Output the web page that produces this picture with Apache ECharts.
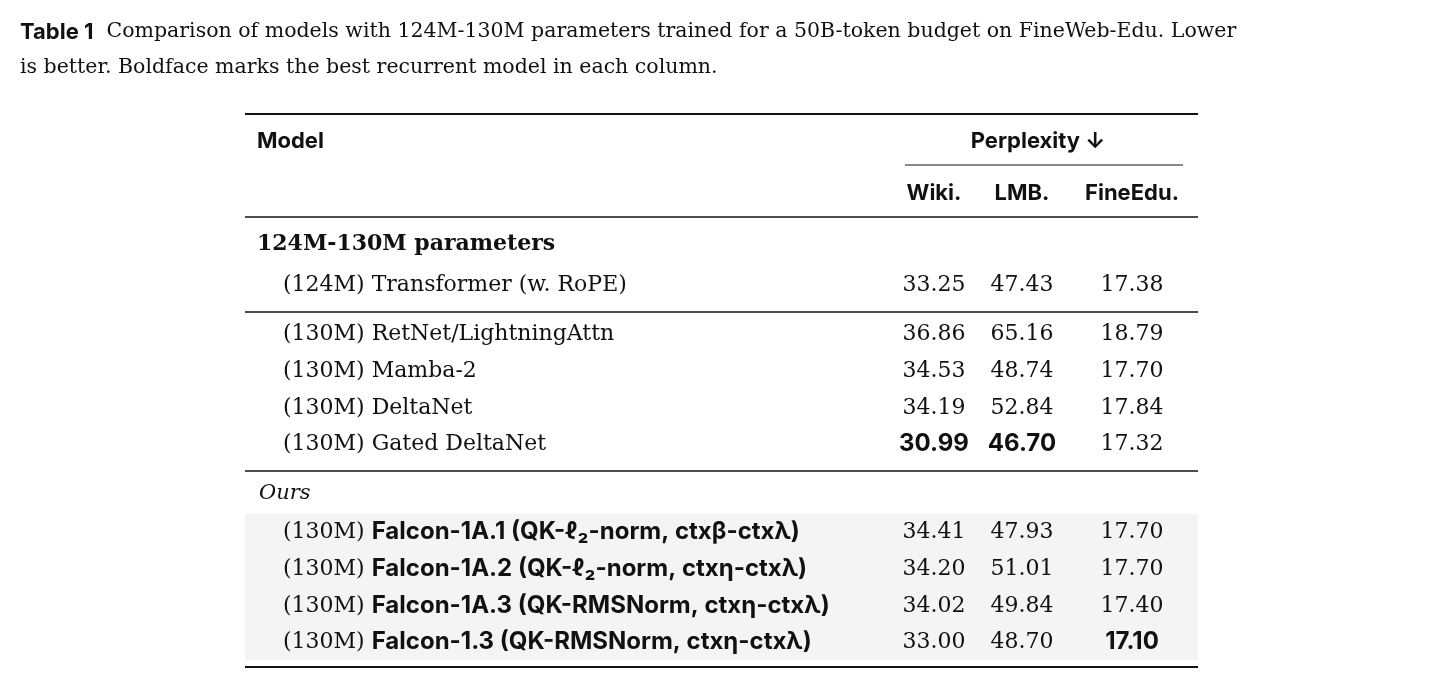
<!DOCTYPE html>
<html><head><meta charset="utf-8">
<script src="https://cdn.jsdelivr.net/npm/echarts@6/dist/echarts.min.js"></script>
<style>html,body{margin:0;background:#fff}#c{width:1444px;height:688px}</style>
</head><body><div id="c"></div>
<script>
// table data
const columns = ['Wiki.', 'LMB.', 'FineEdu.']
const baseSizes = ['(124M)']
const baseModels = ['Transformer (w. RoPE)']
const baseWiki = ['33.25'], baseLmb = ['47.43'], baseFine = ['17.38']
const recSizes = ['(130M)', '(130M)', '(130M)', '(130M)']
const recModels = ['RetNet/LightningAttn', 'Mamba-2', 'DeltaNet', 'Gated DeltaNet']
const recWiki = ['36.86', '34.53', '34.19', '30.99']
const recLmb = ['65.16', '48.74', '52.84', '46.70']
const recFine = ['18.79', '17.70', '17.84', '17.32']
const oursSizes = ['(130M)', '(130M)', '(130M)', '(130M)']
const oursModels = ['Falcon-1A.1 (QK-ℓ₂-norm, ctxβ-ctxλ)', 'Falcon-1A.2 (QK-ℓ₂-norm, ctxη-ctxλ)', 'Falcon-1A.3 (QK-RMSNorm, ctxη-ctxλ)', 'Falcon-1.3 (QK-RMSNorm, ctxη-ctxλ)']
const oursWiki = ['34.41', '34.20', '34.02', '33.00']
const oursLmb = ['47.93', '51.01', '49.84', '48.70']
const oursFine = ['17.70', '17.70', '17.40', '17.10']
// best recurrent per column: [section, rowIndex]
const bestWiki = ['rec', 3], bestLmb = ['rec', 3], bestFine = ['ours', 3]

const SERIF = '"DejaVu Serif", "Liberation Serif", serif'
const SANS = 'Inter, "Open Sans", sans-serif'
const colX = [934, 1022, 1132]
const L = 245, R = 1198
const els = []

function text(x, y, s, opt) {
  els.push({type: 'text', x: x, y: y, style: Object.assign({text: s, fill: '#111', font: '22px ' + SERIF, textVerticalAlign: 'middle'}, opt || {})})
}
function rule(x1, x2, y, w) {
  els.push({type: 'line', shape: {x1: x1, y1: y, x2: x2, y2: y}, style: {stroke: '#111', lineWidth: w}})
}
function numCell(i, y, v, bold) {
  text(colX[i], y, v, {textAlign: 'center', font: bold ? 'bold 24px ' + SANS : '22px ' + SERIF})
}
function rows(section, sizes, models, wiki, lmb, fine, ys, sansName) {
  sizes.forEach((sz, k) => {
    const y = ys[k]
    els.push({type: 'text', x: 283, y: y, style: {
      rich: {s: {font: '22px ' + SERIF, fill: '#111'}, m: {font: sansName ? 'bold 24px ' + SANS : '22px ' + SERIF, fill: '#111'}},
      text: '{s|' + sz + ' }{m|' + models[k] + '}', textVerticalAlign: 'middle'}})
    numCell(0, y, wiki[k], bestWiki[0] === section && bestWiki[1] === k)
    numCell(1, y, lmb[k], bestLmb[0] === section && bestLmb[1] === k)
    numCell(2, y, fine[k], bestFine[0] === section && bestFine[1] === k)
  })
}

// caption
els.push({type: 'text', x: 20, y: 32, style: {
  rich: {b: {font: 'bold 22px ' + SANS, fill: '#111'}, t: {font: '20.5px ' + SERIF, fill: '#111'}},
  text: '{b|Table 1}{t|  Comparison of models with 124M-130M parameters trained for a 50B-token budget on FineWeb-Edu. Lower}',
  textVerticalAlign: 'middle'}})
text(20, 68, 'is better. Boldface marks the best recurrent model in each column.', {font: '20.5px ' + SERIF})

// shaded ours block
els.push({type: 'rect', shape: {x: L, y: 514, width: R - L, height: 146}, style: {fill: '#f4f4f4'}, z: -1})

rule(L, R, 114, 2.2)
text(257, 141, 'Model', {font: 'bold 22px ' + SANS})
text(1038, 141, 'Perplexity ↓', {font: 'bold 22px ' + SANS, textAlign: 'center'})
rule(905, 1183, 165, 1.2)
columns.forEach((c, i) => text(colX[i], 193, c, {font: 'bold 22px ' + SANS, textAlign: 'center'}))
rule(L, R, 217, 1.5)
text(257, 244, '124M-130M parameters', {font: 'bold 22px ' + SERIF})
rows('base', baseSizes, baseModels, baseWiki, baseLmb, baseFine, [285], false)
rule(L, R, 312, 1.5)
rows('rec', recSizes, recModels, recWiki, recLmb, recFine, [334, 371, 408, 444], false)
rule(L, R, 471, 1.5)
text(259, 494, 'Ours', {font: 'italic 21px ' + SERIF})
rows('ours', oursSizes, oursModels, oursWiki, oursLmb, oursFine, [532, 569, 606, 642], true)
rule(L, R, 667, 2.2)

const chart = echarts.init(document.getElementById('c'), null, {renderer: 'canvas'})
chart.setOption({backgroundColor: '#fff', graphic: {elements: els}})
</script></body></html>
